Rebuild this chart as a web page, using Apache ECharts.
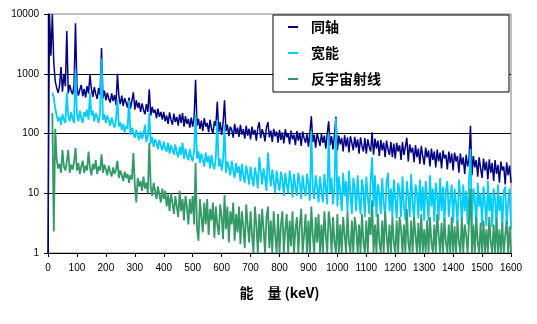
<!DOCTYPE html>
<html><head><meta charset="utf-8">
<script src="https://cdn.jsdelivr.net/npm/echarts@6/dist/echarts.min.js"></script>
<style>html,body{margin:0;padding:0;background:#fff}#c{width:537px;height:324px}</style>
</head><body><div id="c"></div>
<script>
// Energy channels (keV)
const energyKeV = [
0,5,10,15,20,25,30,35,40,45,50,55,60,65,70,75,80,85,90,95,
100,105,110,115,120,125,130,135,140,145,150,155,160,165,170,175,180,185,190,195,
200,205,210,215,220,225,230,235,240,245,250,255,260,265,270,275,280,285,290,295,
300,305,310,315,320,325,330,335,340,345,350,355,360,365,370,375,380,385,390,395,
400,405,410,415,420,425,430,435,440,445,450,455,460,465,470,475,480,485,490,495,
500,505,510,515,520,525,530,535,540,545,550,555,560,565,570,575,580,585,590,595,
600,605,610,615,620,625,630,635,640,645,650,655,660,665,670,675,680,685,690,695,
700,705,710,715,720,725,730,735,740,745,750,755,760,765,770,775,780,785,790,795,
800,805,810,815,820,825,830,835,840,845,850,855,860,865,870,875,880,885,890,895,
900,905,910,915,920,925,930,935,940,945,950,955,960,965,970,975,980,985,990,995,
1000,1005,1010,1015,1020,1025,1030,1035,1040,1045,1050,1055,1060,1065,1070,1075,1080,1085,1090,1095,
1100,1105,1110,1115,1120,1125,1130,1135,1140,1145,1150,1155,1160,1165,1170,1175,1180,1185,1190,1195,
1200,1205,1210,1215,1220,1225,1230,1235,1240,1245,1250,1255,1260,1265,1270,1275,1280,1285,1290,1295,
1300,1305,1310,1315,1320,1325,1330,1335,1340,1345,1350,1355,1360,1365,1370,1375,1380,1385,1390,1395,
1400,1405,1410,1415,1420,1425,1430,1435,1440,1445,1450,1455,1460,1465,1470,1475,1480,1485,1490,1495,
1500,1505,1510,1515,1520,1525,1530,1535,1540,1545,1550,1555,1560,1565,1570,1575,1580,1585,1590,1595,
1600];

// 同轴 (coaxial) counts
const coaxialCounts = [
1,10000,2000,10000,1500,750,580,480,640,1300,500,1000,620,5200,470,650,520,450,640,7000,
600,430,540,650,420,560,400,620,470,950,560,410,600,460,380,580,440,2700,390,520,
360,480,380,330,470,350,440,300,1000,420,310,430,290,390,330,270,400,260,360,490,
250,360,270,330,230,320,250,210,310,230,550,200,280,220,250,180,260,190,230,170,
230,160,200,145,225,170,140,215,155,190,135,210,150,220,130,195,145,175,125,185,
130,185,790,135,175,120,165,110,180,130,150,105,170,120,100,160,135,340,105,155,
95,150,360,110,140,90,130,115,85,145,100,125,88,140,96,118,82,135,92,120,
80,130,95,115,76,125,155,84,118,100,74,128,155,86,112,72,120,90,108,70,
115,78,104,68,118,86,100,66,112,80,95,64,110,76,102,62,108,84,70,98,
60,104,195,72,96,58,100,80,62,98,70,92,56,100,160,64,90,54,96,190,
52,92,66,84,50,94,60,86,48,90,70,52,88,58,80,46,86,62,50,84,
46,80,60,50,105,44,82,56,76,42,78,52,70,40,76,54,44,72,40,68,
38,70,50,64,36,72,44,60,85,34,66,48,58,33,64,40,56,31,62,42,
30,58,40,52,28,56,36,50,27,54,34,48,26,52,38,44,25,50,32,46,
24,48,34,42,22,46,30,40,21,44,28,38,135,20,42,27,36,19,40,26,
18,38,24,34,17,37,22,32,16,36,21,30,15,34,24,28,14,33,20,29,
15];

// 宽能 (broad energy) counts
const broadCounts = [
null,null,null,480,400,260,200,160,190,140,210,170,150,480,200,160,230,175,150,1200,
210,160,240,180,150,230,190,250,170,480,200,240,160,220,190,150,230,1800,170,210,
150,200,170,135,185,150,125,170,370,130,155,115,145,105,135,120,360,95,125,105,
85,115,92,78,108,82,96,140,72,92,220,68,88,60,80,70,55,78,62,52,
74,56,50,70,46,64,54,44,66,48,40,60,44,70,38,56,42,36,55,40,
34,52,210,38,50,32,46,36,28,48,33,42,26,44,30,25,40,168,28,38,
24,36,138,22,34,27,20,35,24,18,32,22,28,16,31,20,15,29,21,14,
28,18,13,27,20,12,40,24,14,26,18,11,48,22,13,25,16,10,24,15,
11,23,17,9,22,14,10,24,16,8.5,21,13,9,22,15,8,20,12,9,21,
14,7.5,110,12,8,20,13,7,19,11,7,21,12,6.5,100,10,18,6.5,13,180,
6,19,11,5,22,9,16,5,24,10,4.5,18,12,5,20,8,4.5,17,11,4,
19,9,4.5,16,40,6,20,4,14,10,4.5,18,7,4,15,22,5,12,4,17,
8,3.8,15,11,4,19,6,3.5,16,9,4,21,7,3.5,14,10,3.8,17,5,13,
3.5,16,8,3.4,20,6,12,3.3,15,9,3.5,18,5,13,3.2,11,16,4,8,14,
3.2,12,7,3,17,9,3.2,14,5,11,3,16,55,3,12,8,3,15,6,10,
2.8,13,7,2.8,16,5,10,2.7,12,8,2.6,14,5,9,2.5,11,13,3,7,12,
2.5];

// 反宇宙射线 (anti-cosmic) counts
const antiCosmicCounts = [
null,null,null,220,2.3,120,36,26,31,22,53,28,24,34,53,22,30,25,33,57,
24,32,21,28,35,22,29,24,50,27,20,31,25,36,21,28,24,45,22,30,
25,20,29,23,19,27,21,25,35,18,24,20,16,23,18,21,15,20,17,47,
14,7,18,13,16,11,19,12,15,10,70,13,9,15,11,8,13,9.5,7,12,
8,11,6,9.5,5,10,7,4.5,9,6,4,11,5,8,3.5,9,6,3,8,4.5,
9,3,32,2.5,1.6,8,4,2.2,7,3,8,2,5.5,3.5,7,1.8,6,3,2,6.5,
4,1.7,9.3,2.5,6,1.5,5,3,7,1.6,4.5,2.2,6,1.4,5,2.8,1.2,6.5,3,1.5,
5,2,1,6,3,1,4.5,1.5,5.5,2.5,1,4,6,1.2,3.5,1,5,2,1,4.5,
1,3,5,1,2.5,4.5,1,3.5,1.3,5,1,2.5,4,1,3,5.5,1,2,4.5,1,
3.5,1,6,2,1,4,1.5,4.5,1,3,1,5,2,1,5,3,1,4,1.5,1,
4.5,1,3,1,4,2,1,5,1.5,1,3.5,1,4,2.5,1,3,1,4.5,1.5,1,
3.5,1,4,2,7.6,1,3,1,4.5,1.5,1,3.5,1,5,2,1,3,1,4,1.5,
1,3.5,1,4,2.5,1,3,1,5.5,1.5,1,3.5,1,4,2,1,3.2,1,4.5,1,
2.5,1,3.5,1,4,1.5,1,3,1,4.5,2,1,3.2,1,3.8,1.5,1,3,1,4,
1,2.8,1,3.5,1.5,1,4,1,3,2,1,3.5,12,1,3,1,4,1.5,1,3.2,
1,3.5,1,2.5,1,4,1.5,1,3,1,3.8,1,2.5,1,3.2,1,2,3.5,1,2.8,
1];

const seriesNames = ['同轴','宽能','反宇宙射线'];
const seriesColors = ['#000080','#00CCFF','#339966'];
const seriesWidths = [1.5,1.8,1.8];
const seriesValues = [coaxialCounts, broadCounts, antiCosmicCounts];

const pair = arr => energyKeV.map((e,i)=>[e, arr[i]]);
const tickFont = 'Liberation Sans, Arial, sans-serif';
const cjk = '"Noto Sans CJK SC", sans-serif';

const chart = echarts.init(document.getElementById('c'));
chart.setOption({
  animation:false,
  grid:{left:48,right:26,top:14,bottom:71,show:true,borderColor:'#808080',borderWidth:1},
  xAxis:{type:'value',min:0,max:1600,interval:100,
    axisLine:{lineStyle:{color:'#000',width:1}},
    axisTick:{show:true,length:4,lineStyle:{color:'#000'}},
    axisLabel:{fontSize:10,color:'#000',margin:10,fontFamily:tickFont,formatter:v=>String(v)},
    splitLine:{show:false},
    name:'能　量 (keV)',nameLocation:'middle',nameGap:33,
    nameTextStyle:{fontSize:14,fontWeight:'bold',color:'#000',fontFamily:cjk}},
  yAxis:{type:'log',logBase:10,min:1,max:10000,
    axisLine:{show:true,lineStyle:{color:'#000',width:1}},
    axisTick:{show:true,length:4,lineStyle:{color:'#000'}},
    axisLabel:{fontSize:10,color:'#000',margin:9,fontFamily:tickFont,formatter:v=>String(Math.round(v))},
    splitLine:{show:true,showMaxLine:false,showMinLine:false,lineStyle:{color:'#000',width:1}}},
  legend:{left:273,top:15,orient:'vertical',
    padding:[5,128,6,15],itemGap:12,itemWidth:10,itemHeight:2,icon:'rect',
    backgroundColor:'#fff',borderColor:'#000',borderWidth:1,
    textStyle:{fontSize:14,fontWeight:'bold',color:'#000',fontFamily:cjk,padding:[0,0,0,8]},
    data:seriesNames},
  series:seriesNames.map((n,i)=>({
    name:n,type:'line',symbol:'none',sampling:false,connectNulls:false,
    data:pair(seriesValues[i]),
    lineStyle:{color:seriesColors[i],width:seriesWidths[i]},
    itemStyle:{color:seriesColors[i]}
  }))
});
</script></body></html>
